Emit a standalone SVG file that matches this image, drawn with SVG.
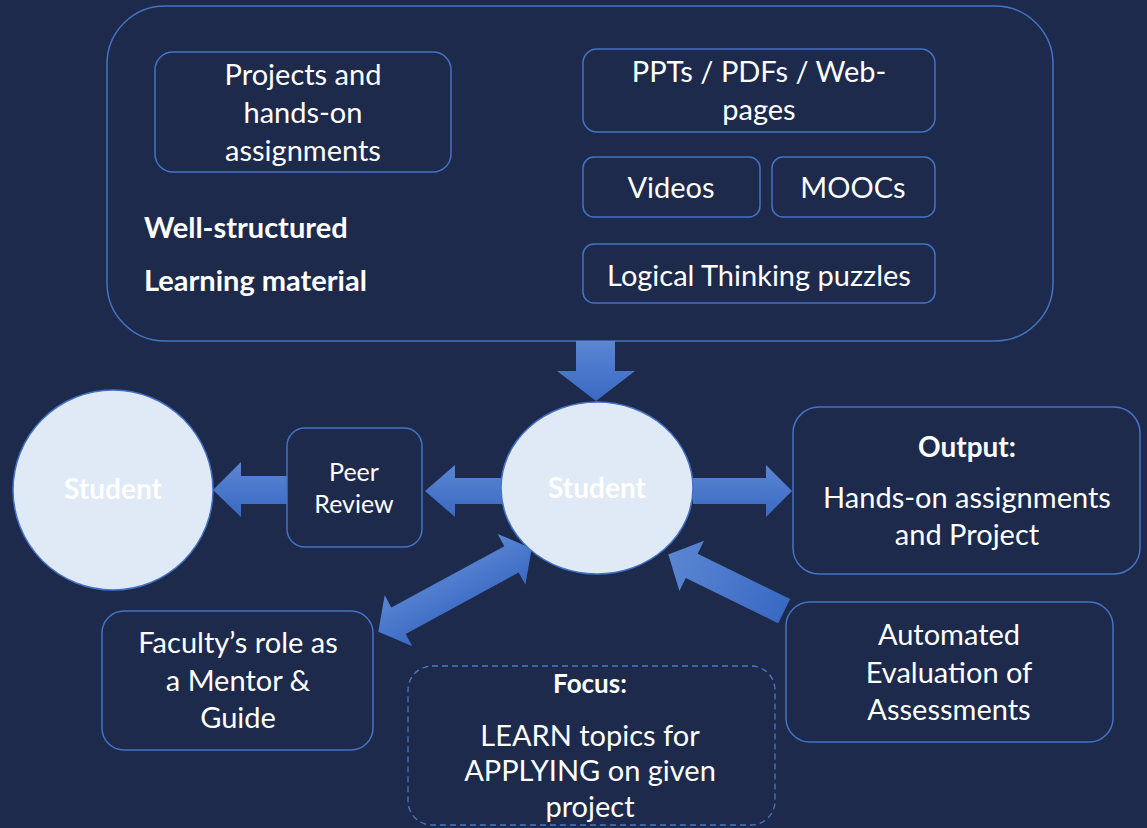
<svg xmlns="http://www.w3.org/2000/svg" width="1147" height="828" viewBox="0 0 1147 828">
<defs>
<linearGradient id="ag" x1="0" y1="0" x2="0" y2="1">
<stop offset="0" stop-color="#5a86d2"/>
<stop offset="1" stop-color="#3a69c3"/>
</linearGradient>
<linearGradient id="agd" x1="0" y1="0" x2="1" y2="0">
<stop offset="0" stop-color="#3a69c3"/>
<stop offset="1" stop-color="#5a86d2"/>
</linearGradient>
<style>
.box{fill:#1d2a4b;stroke:#4472c4;stroke-width:1.5}
.dash{fill:none;stroke:#4a78c8;stroke-width:1.3;stroke-dasharray:6 4}
.t{font-family:Lato,"Liberation Sans",sans-serif;font-size:29px;fill:#ffffff;text-anchor:middle}
.b{font-family:Lato,"Liberation Sans",sans-serif;font-size:29px;font-weight:bold;fill:#ffffff}
.s{font-size:25px}
.m{font-size:28px;text-anchor:middle}
.arr{fill:url(#ag)}
.arrd{fill:url(#agd)}
.stu{fill:#dfeaf6;stroke:#4472c4;stroke-width:1.5}
</style>
</defs>
<rect width="1147" height="828" fill="#1d2a4b"/>

<g id="learning-material">
<rect class="box" x="107" y="6" width="946" height="335" rx="58"/>
<text class="b" x="144" y="238">Well-structured</text>
<text class="b" x="144" y="291">Learning material</text>
</g>
<g id="projects">
<rect class="box" x="155" y="52" width="296" height="120" rx="18"/>
<text class="t" x="303" y="85">Projects and</text>
<text class="t" x="303" y="123">hands-on</text>
<text class="t" x="303" y="161">assignments</text>
</g>
<g id="ppts">
<rect class="box" x="583" y="49" width="352" height="83" rx="14"/>
<text class="t" x="759" y="82">PPTs / PDFs / Web-</text>
<text class="t" x="759" y="120">pages</text>
</g>
<g id="videos">
<rect class="box" x="583" y="157" width="177" height="60" rx="11"/>
<text class="t" x="671" y="198">Videos</text>
</g>
<g id="moocs">
<rect class="box" x="772" y="157" width="163" height="60" rx="11"/>
<text class="t" x="853" y="198">MOOCs</text>
</g>
<g id="puzzles">
<rect class="box" x="583" y="244" width="352" height="59" rx="11"/>
<text class="t" x="759" y="286">Logical Thinking puzzles</text>
</g>

<g id="connectors">
<polygon class="arr" points="576,341 615,341 615,371 635,371 596,401 557,371 576,371"/>
<polygon class="arr" points="693,478 766,478 766,465 792,491 766,517 766,504 693,504"/>
<polygon class="arr" points="502,478 455,478 455,465 425,491 455,517 455,504 502,504"/>
<polygon class="arr" points="287,476 241,476 241,462 213,490 241,517 241,504 287,504"/>
<polygon class="arr" transform="translate(378.3,631.7) rotate(-28.5)" points="0,0 23,-29 23,-15 151.6,-15 151.6,-29 174.6,0 151.6,29 151.6,15 23,15 23,29"/>
<polygon class="arrd" transform="translate(784.2,611.2) rotate(-153.9)" points="0,-13.5 103,-13.5 103,-28 129,0 103,28 103,13.5 0,13.5"/>
</g>

<g id="student-left">
<circle class="stu" cx="113" cy="490" r="100"/>
<text class="b m" x="113" y="499">Student</text>
</g>
<g id="peer-review">
<rect class="box" x="287" y="428" width="135" height="119" rx="18"/>
<text class="t s" x="354" y="481">Peer</text>
<text class="t s" x="354" y="513">Review</text>
</g>
<g id="student-center">
<ellipse class="stu" cx="597" cy="488" rx="96" ry="86"/>
<text class="b m" x="597" y="498">Student</text>
</g>
<g id="output">
<rect class="box" x="793" y="407" width="347" height="167" rx="26"/>
<text class="b m" x="967" y="457">Output:</text>
<text class="t" x="967" y="508">Hands-on assignments</text>
<text class="t" x="967" y="545">and Project</text>
</g>
<g id="automated">
<rect class="box" x="786" y="602" width="327" height="140" rx="24"/>
<text class="t" x="949" y="645">Automated</text>
<text class="t" x="949" y="683">Evaluation of</text>
<text class="t" x="949" y="720">Assessments</text>
</g>
<g id="faculty">
<rect class="box" x="102" y="611" width="271" height="139" rx="22"/>
<text class="t" x="238" y="653">Faculty’s role as</text>
<text class="t" x="238" y="691">a Mentor &amp;</text>
<text class="t" x="238" y="728">Guide</text>
</g>
<g id="focus">
<rect class="dash" x="408" y="666" width="367" height="159" rx="24"/>
<text class="b m" x="590" y="693" style="font-size:26px">Focus:</text>
<text class="t" x="590" y="746">LEARN topics for</text>
<text class="t" x="590" y="781">APPLYING on given</text>
<text class="t" x="590" y="817">project</text>
</g>
</svg>
